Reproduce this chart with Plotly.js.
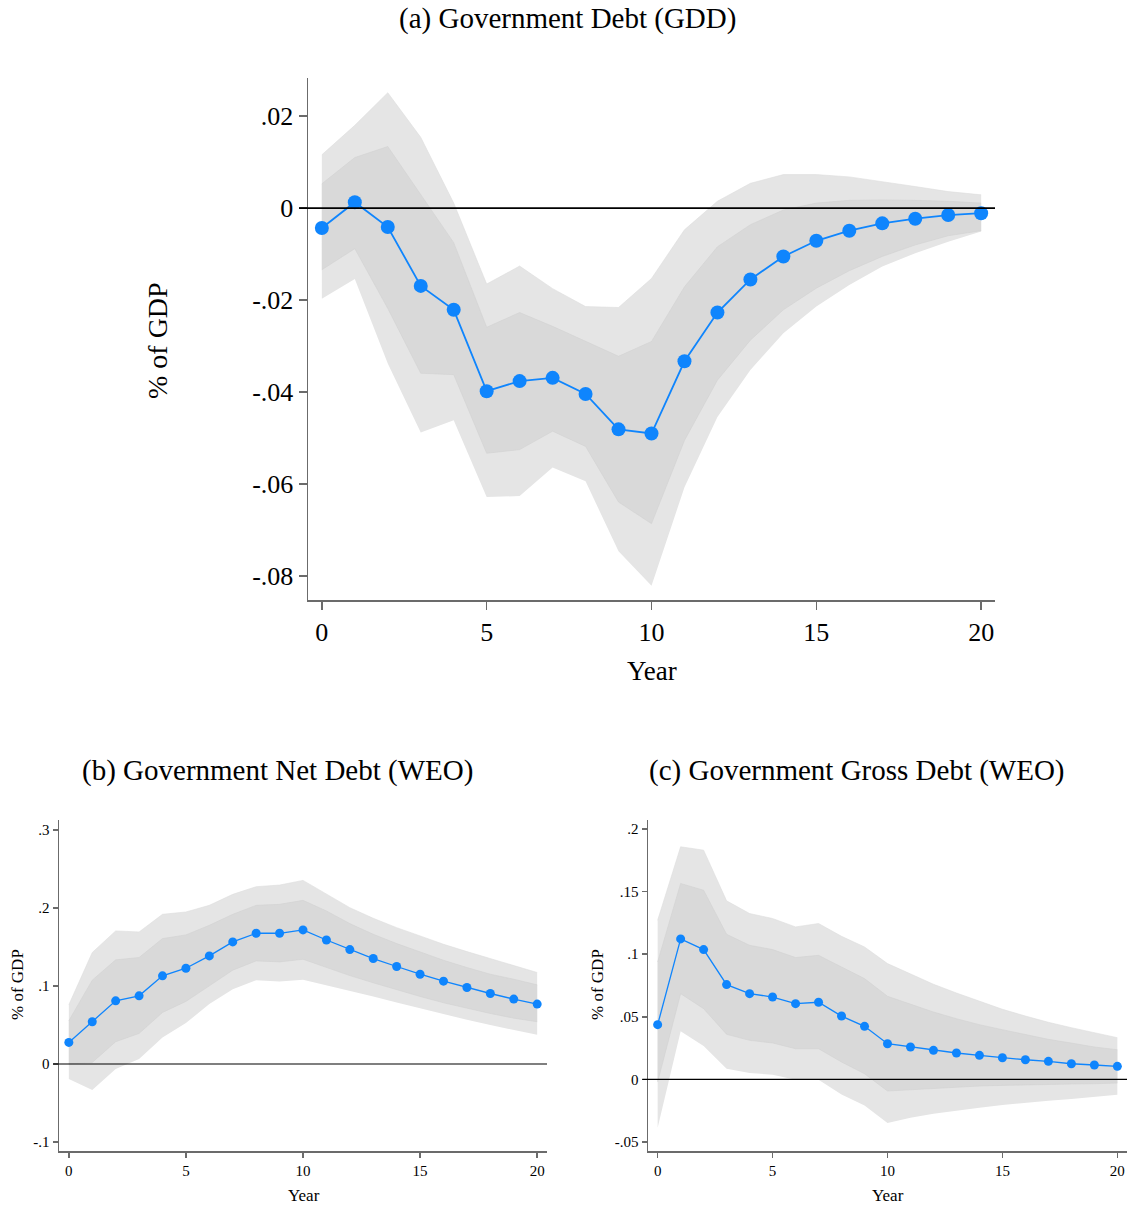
<!DOCTYPE html>
<html>
<head>
<meta charset="utf-8">
<script src="https://cdn.plot.ly/plotly-3.0.1.min.js"></script>
<style>html,body{margin:0;padding:0;background:#fff;}#chart{width:1133px;height:1206px;}</style>
</head>
<body>
<div id="chart"></div>
<script>
// ---------- data ----------
const years = [0,1,2,3,4,5,6,7,8,9,10,11,12,13,14,15,16,17,18,19,20];

// (a) Government Debt (GDD)
const gddIrf     = [-0.0043,0.0013,-0.0041,-0.0169,-0.0221,-0.0398,-0.0376,-0.0369,-0.0404,-0.0481,-0.0490,-0.0333,-0.0227,-0.0155,-0.0105,-0.0071,-0.0049,-0.0033,-0.0023,-0.0015,-0.0011];
const gddOuterHi = [0.0116,0.0180,0.0251,0.0154,0.0011,-0.0165,-0.0126,-0.0175,-0.0214,-0.0216,-0.0153,-0.0047,0.0015,0.0054,0.0073,0.0073,0.0068,0.0058,0.0047,0.0036,0.0029];
const gddInnerHi = [0.0053,0.0110,0.0134,0.0030,-0.0075,-0.0259,-0.0227,-0.0257,-0.0289,-0.0322,-0.0290,-0.0171,-0.0084,-0.0036,-0.0004,0.0011,0.0017,0.0018,0.0017,0.0015,0.0011];
const gddInnerLo = [-0.0134,-0.0088,-0.0218,-0.0359,-0.0362,-0.0533,-0.0525,-0.0485,-0.0518,-0.0639,-0.0686,-0.0505,-0.0374,-0.0287,-0.0221,-0.0174,-0.0136,-0.0105,-0.0080,-0.0060,-0.0049];
const gddOuterLo = [-0.0197,-0.0154,-0.0338,-0.0488,-0.0461,-0.0628,-0.0626,-0.0564,-0.0594,-0.0746,-0.0821,-0.0607,-0.0454,-0.0352,-0.0272,-0.0214,-0.0167,-0.0127,-0.0098,-0.0073,-0.0051];

// (b) Government Net Debt (WEO)
const netIrf     = [0.0277,0.0542,0.0810,0.0874,0.1130,0.1228,0.1386,0.1565,0.1676,0.1676,0.1719,0.1590,0.1467,0.1352,0.1250,0.1151,0.1062,0.0981,0.0904,0.0832,0.0768];
const netOuterHi = [0.0759,0.1429,0.1706,0.1693,0.1919,0.1949,0.2034,0.2175,0.2273,0.2294,0.2354,0.2175,0.2004,0.1868,0.1748,0.1642,0.1535,0.1441,0.1352,0.1258,0.1173];
const netInnerHi = [0.0554,0.1075,0.1335,0.1365,0.1608,0.1655,0.1778,0.1919,0.2034,0.2047,0.2098,0.1962,0.1800,0.1663,0.1544,0.1433,0.1330,0.1237,0.1151,0.1087,0.1015];
const netInnerLo = [0.0000,0.0020,0.0286,0.0392,0.0661,0.0802,0.1002,0.1203,0.1322,0.1309,0.1343,0.1237,0.1134,0.1041,0.0951,0.0866,0.0785,0.0712,0.0648,0.0588,0.0542];
const netOuterLo = [-0.0192,-0.0333,-0.0064,0.0064,0.0341,0.0525,0.0768,0.0959,0.1075,0.1058,0.1079,0.1011,0.0938,0.0866,0.0789,0.0712,0.0640,0.0567,0.0499,0.0435,0.0375];

// (c) Government Gross Debt (WEO)
const grossIrf     = [0.0437,0.1122,0.1037,0.0757,0.0685,0.0658,0.0605,0.0616,0.0506,0.0424,0.0285,0.0259,0.0232,0.0211,0.0192,0.0173,0.0157,0.0144,0.0125,0.0115,0.0104];
const grossOuterHi = [0.1271,0.1858,0.1831,0.1426,0.1325,0.1285,0.1218,0.1245,0.1143,0.1058,0.0925,0.0840,0.0760,0.0690,0.0626,0.0560,0.0506,0.0456,0.0413,0.0370,0.0333];
const grossInnerHi = [0.0938,0.1565,0.1511,0.1159,0.1071,0.1037,0.0973,0.0991,0.0898,0.0805,0.0664,0.0600,0.0538,0.0485,0.0437,0.0397,0.0357,0.0320,0.0290,0.0259,0.0237];
const grossInnerLo = [-0.0020,0.0685,0.0565,0.0360,0.0312,0.0291,0.0245,0.0245,0.0139,0.0045,-0.0093,-0.0083,-0.0069,-0.0061,-0.0053,-0.0048,-0.0043,-0.0040,-0.0037,-0.0035,-0.0029];
const grossOuterLo = [-0.0386,0.0384,0.0267,0.0085,0.0051,0.0037,-0.0003,-0.0003,-0.0120,-0.0208,-0.0349,-0.0307,-0.0275,-0.0248,-0.0227,-0.0205,-0.0187,-0.0171,-0.0157,-0.0141,-0.0123];

const xTicks = [0,5,10,15,20];
const gddTicks = [0.02,0,-0.02,-0.04,-0.06,-0.08];
const gddTickText = ['.02','0','-.02','-.04','-.06','-.08'];
const netTicks = [0.3,0.2,0.1,0,-0.1];
const netTickText = ['.3','.2','.1','0','-.1'];
const grossTicks = [0.2,0.15,0.1,0.05,0,-0.05];
const grossTickText = ['.2','.15','.1','.05','0','-.05'];

// ---------- style ----------
const FONT = 'Liberation Serif, Times New Roman, serif';
const OUTER = '#e5e5e5';
const INNER = '#d9d9d9';
const BLUE = '#0f85fd';
const AXIS = '#6b6b6b';

function panel(xa, ya, irf, oHi, iHi, iLo, oLo, msize, lw) {
  const sfx = {xaxis: xa, yaxis: ya, hoverinfo: 'skip', showlegend: false};
  return [
    Object.assign({x: years, y: oLo, mode: 'lines', line: {width: 0, color: OUTER}, fill: 'none'}, sfx),
    Object.assign({x: years, y: oHi, mode: 'lines', line: {width: 0.6, color: '#dedede'}, fill: 'tonexty', fillcolor: OUTER}, sfx),
    Object.assign({x: years, y: iLo, mode: 'lines', line: {width: 0.6, color: '#d2d2d2'}, fill: 'none'}, sfx),
    Object.assign({x: years, y: iHi, mode: 'lines', line: {width: 0.6, color: '#d2d2d2'}, fill: 'tonexty', fillcolor: INNER}, sfx),
    Object.assign({x: years, y: irf, mode: 'lines+markers', line: {width: lw, color: BLUE}, marker: {size: msize, color: BLUE}}, sfx)
  ];
}

const data = [].concat(
  panel('x', 'y', gddIrf, gddOuterHi, gddInnerHi, gddInnerLo, gddOuterLo, 14, 1.8),
  panel('x2', 'y2', netIrf, netOuterHi, netInnerHi, netInnerLo, netOuterLo, 9, 1.3),
  panel('x3', 'y3', grossIrf, grossOuterHi, grossInnerHi, grossInnerLo, grossOuterLo, 9, 1.3)
);

function xaxis(domain, anchor, size, tlen) {
  return {domain: domain, anchor: anchor, range: [-0.42, 20.42], tickmode: 'array', tickvals: xTicks,
    ticktext: xTicks.map(String), ticks: 'outside', ticklen: tlen, tickwidth: 1.5, tickcolor: AXIS,
    showline: true, linecolor: AXIS, linewidth: 1.5, showgrid: false, zeroline: false,
    tickfont: {family: FONT, size: size, color: '#000'}, fixedrange: true};
}
function yaxis(domain, anchor, range, vals, text, size, tlen) {
  return {domain: domain, anchor: anchor, range: range, tickmode: 'array', tickvals: vals, ticktext: text,
    ticks: 'outside', ticklen: tlen, tickwidth: 1.5, tickcolor: AXIS,
    showline: true, linecolor: AXIS, linewidth: 1.5, showgrid: false, zeroline: false,
    tickfont: {family: FONT, size: size, color: '#000'}, fixedrange: true};
}

function ann(text, x, y, size, angle) {
  return {text: text, xref: 'paper', yref: 'paper', x: x, y: y, xanchor: 'center', yanchor: 'middle',
    showarrow: false, textangle: angle || 0, font: {family: FONT, size: size, color: '#000'}};
}
const W = 1133, H = 1206;
const px = v => v / W, py = v => 1 - v / H;

const layout = {
  width: W, height: H,
  margin: {l: 0, r: 0, t: 0, b: 0},
  paper_bgcolor: '#fff', plot_bgcolor: '#fff',
  showlegend: false,
  xaxis:  xaxis([px(308), px(995)], 'y', 26, 8),
  yaxis:  yaxis([py(600), py(78)], 'x', [-0.0852, 0.0283], gddTicks, gddTickText, 26, 8),
  xaxis2: xaxis([px(59), px(547)], 'y2', 15, 5),
  yaxis2: yaxis([py(1151), py(820)], 'x2', [-0.1115, 0.3128], netTicks, netTickText, 15, 5),
  xaxis3: xaxis([px(648), px(1127)], 'y3', 15, 5),
  yaxis3: yaxis([py(1151), py(820)], 'x3', [-0.0572, 0.2072], grossTicks, grossTickText, 15, 5),
  shapes: [
    {type: 'line', xref: 'x domain', yref: 'y', x0: -0.013, x1: 1, y0: 0, y1: 0, line: {color: '#000', width: 1.6}},
    {type: 'line', xref: 'x2 domain', yref: 'y2', x0: -0.012, x1: 1, y0: 0, y1: 0, line: {color: '#000', width: 1.2}},
    {type: 'line', xref: 'x3 domain', yref: 'y3', x0: -0.012, x1: 1, y0: 0, y1: 0, line: {color: '#000', width: 1.2}}
  ],
  annotations: [
    ann('(a) Government Debt (GDD)', px(567), py(19), 29),
    ann('(b) Government Net Debt (WEO)', px(277), py(770), 29),
    ann('(c) Government Gross Debt (WEO)', px(857), py(770), 29),
    ann('% of GDP', px(157), py(341), 28, -90),
    ann('Year', px(652), py(671), 27),
    ann('% of GDP', px(17), py(985), 17, -90),
    ann('Year', px(304), py(1195), 17),
    ann('% of GDP', px(597), py(985), 17, -90),
    ann('Year', px(888), py(1195), 17)
  ]
};

Plotly.newPlot('chart', data, layout, {staticPlot: true, displayModeBar: false});
</script>
</body>
</html>
